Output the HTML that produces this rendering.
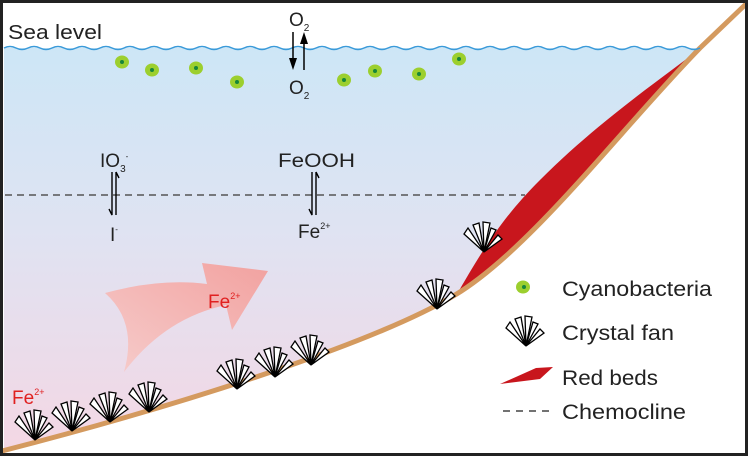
<!DOCTYPE html>
<html><head><meta charset="utf-8"><style>
html,body{margin:0;padding:0;background:#fff}
svg{display:block}
text{font-family:"Liberation Sans",sans-serif}
</style></head><body>
<svg width="748" height="456" viewBox="0 0 748 456" xmlns="http://www.w3.org/2000/svg">
<defs>
<linearGradient id="w" x1="0" y1="0" x2="0" y2="1">
<stop offset="0" stop-color="#cde6f6"/>
<stop offset="0.45" stop-color="#dfe3f2"/>
<stop offset="1" stop-color="#f4d7e4"/>
</linearGradient>
<linearGradient id="pa" x1="0" y1="1" x2="1" y2="0">
<stop offset="0" stop-color="#f6cccb"/>
<stop offset="1" stop-color="#f2a2a0"/>
</linearGradient>
<g id="fan" fill="#fff" stroke="#000" stroke-width="1.3" stroke-linejoin="miter">
<polygon points="0,0 -20,-18 -16,-24"/>
<polygon points="0,0 -11,-27 -5,-29"/>
<polygon points="0,0 -1,-30 6,-29"/>
<polygon points="0,0 7,-24 12,-22"/>
<polygon points="0,0 14,-17 18,-13"/>
</g>
</defs>
<rect x="0" y="0" width="748" height="456" fill="#fff"/>
<!-- water -->
<path d="M4,48 L700,48 C620,130 530,250 455,295 C380,340 200,400 4,451 Z" fill="url(#w)"/>
<!-- red bed -->
<path d="M456,296 C485,245 505,215 540,180 C600,120 660,80 702,47 C620,130 530,250 456,296 Z" fill="#c8161d"/>
<!-- floor -->
<path d="M2,451 C200,400 380,340 455,295 C530,250 620,130 700,48 L746,4" fill="none" stroke="#d49a5f" stroke-width="5"/>
<!-- waves -->
<path d="M4,48 q6,-3 12,0 t12,0 t12,0 t12,0 t12,0 t12,0 t12,0 t12,0 t12,0 t12,0 t12,0 t12,0 t12,0 t12,0 t12,0 t12,0 t12,0 t12,0 t12,0 t12,0 t12,0 t12,0 t12,0 t12,0 t12,0 t12,0 t12,0 t12,0 t12,0 t12,0 t12,0 t12,0 t12,0 t12,0 t12,0 t12,0 t12,0 t12,0 t12,0 t12,0 t12,0 t12,0 t12,0 t12,0 t12,0 t12,0 t12,0 t12,0 t12,0 t12,0 t12,0 t12,0 t12,0 t12,0 t12,0 t12,0 t12,0 t12,0" fill="none" stroke="#3a9ad9" stroke-width="1.5"/>
<text x="8" y="39" font-size="20" fill="#222" textLength="94" lengthAdjust="spacingAndGlyphs">Sea level</text>
<!-- O2 -->
<text x="289" y="26" font-size="19" fill="#222">O<tspan font-size="10" dy="5">2</tspan></text>
<text x="289" y="94" font-size="19" fill="#222">O<tspan font-size="10" dy="5">2</tspan></text>
<line x1="293" y1="32" x2="293" y2="62" stroke="#000" stroke-width="1.5"/>
<polygon points="289,58 297,58 293,70" fill="#000"/>
<line x1="304" y1="70" x2="304" y2="40" stroke="#000" stroke-width="1.5"/>
<polygon points="300,44 308,44 304,32" fill="#000"/>
<!-- cells -->
<g fill="#9ccf2e"><ellipse cx="122" cy="62" rx="7" ry="6.5"/><ellipse cx="152" cy="70" rx="7" ry="6.5"/><ellipse cx="196" cy="68" rx="7" ry="6.5"/><ellipse cx="237" cy="82" rx="7" ry="6.5"/><ellipse cx="344" cy="80" rx="7" ry="6.5"/><ellipse cx="375" cy="71" rx="7" ry="6.5"/><ellipse cx="419" cy="74" rx="7" ry="6.5"/><ellipse cx="459" cy="59" rx="7" ry="6.5"/><ellipse cx="523" cy="287" rx="7" ry="6.5"/></g>
<g fill="#17863a"><circle cx="122" cy="62" r="2"/><circle cx="152" cy="70" r="2"/><circle cx="196" cy="68" r="2"/><circle cx="237" cy="82" r="2"/><circle cx="344" cy="80" r="2"/><circle cx="375" cy="71" r="2"/><circle cx="419" cy="74" r="2"/><circle cx="459" cy="59" r="2"/><circle cx="524" cy="287" r="2"/></g>
<!-- chemocline -->
<line x1="5" y1="195" x2="525" y2="195" stroke="#555" stroke-width="1.5" stroke-dasharray="7,5"/>
<!-- IO3 / I -->
<text x="100" y="167" font-size="19" fill="#222">IO<tspan font-size="10" dy="5">3</tspan><tspan font-size="8" dy="-13">-</tspan></text>
<path d="M116,172 L116,215 M116,172 L119,178" fill="none" stroke="#000" stroke-width="1.4"/>
<path d="M112,172 L112,215 L109,209" fill="none" stroke="#000" stroke-width="1.4"/>
<text x="110" y="241" font-size="19" fill="#222">I<tspan font-size="8" dy="-9">-</tspan></text>
<!-- FeOOH / Fe2+ -->
<text x="278" y="167" font-size="19" fill="#222" textLength="77" lengthAdjust="spacingAndGlyphs">FeOOH</text>
<path d="M316,172 L316,215 M316,172 L319,178" fill="none" stroke="#000" stroke-width="1.4"/>
<path d="M312,172 L312,215 L309,209" fill="none" stroke="#000" stroke-width="1.4"/>
<text x="298" y="238" font-size="19" fill="#222">Fe<tspan font-size="9" dy="-9">2+</tspan></text>
<!-- pink arrow -->
<path d="M105,293 Q160,278 207,284 L202,263 L268,271 L232,330 L226,305 Q165,318 124,372 Q138,322 105,293 Z" fill="url(#pa)"/>
<text x="208" y="308" font-size="19" fill="#e02020">Fe<tspan font-size="9" dy="-9">2+</tspan></text>
<text x="12" y="404" font-size="19" fill="#e02020">Fe<tspan font-size="9" dy="-9">2+</tspan></text>
<!-- fans -->
<use href="#fan" x="35" y="440"/><use href="#fan" x="72" y="431"/><use href="#fan" x="110" y="422"/><use href="#fan" x="149" y="412"/>
<use href="#fan" x="237" y="389"/><use href="#fan" x="275" y="377"/><use href="#fan" x="311" y="365"/>
<use href="#fan" x="437" y="309"/><use href="#fan" x="484" y="252"/>
<!-- legend -->
<text x="562" y="296" font-size="21" fill="#222" textLength="150" lengthAdjust="spacingAndGlyphs">Cyanobacteria</text>
<use href="#fan" x="526" y="346"/>
<text x="562" y="340" font-size="21" fill="#222" textLength="112" lengthAdjust="spacingAndGlyphs">Crystal fan</text>
<polygon points="500,384 536,368 553,367 540,379" fill="#c8161d"/>
<text x="562" y="385" font-size="21" fill="#222" textLength="96" lengthAdjust="spacingAndGlyphs">Red beds</text>
<line x1="503" y1="411" x2="551" y2="411" stroke="#444" stroke-width="1.5" stroke-dasharray="7,6"/>
<text x="562" y="419" font-size="21" fill="#222" textLength="124" lengthAdjust="spacingAndGlyphs">Chemocline</text>
<!-- frame -->
<rect x="1.5" y="1.5" width="745" height="453" fill="none" stroke="#222" stroke-width="3"/>
</svg>
</body></html>
